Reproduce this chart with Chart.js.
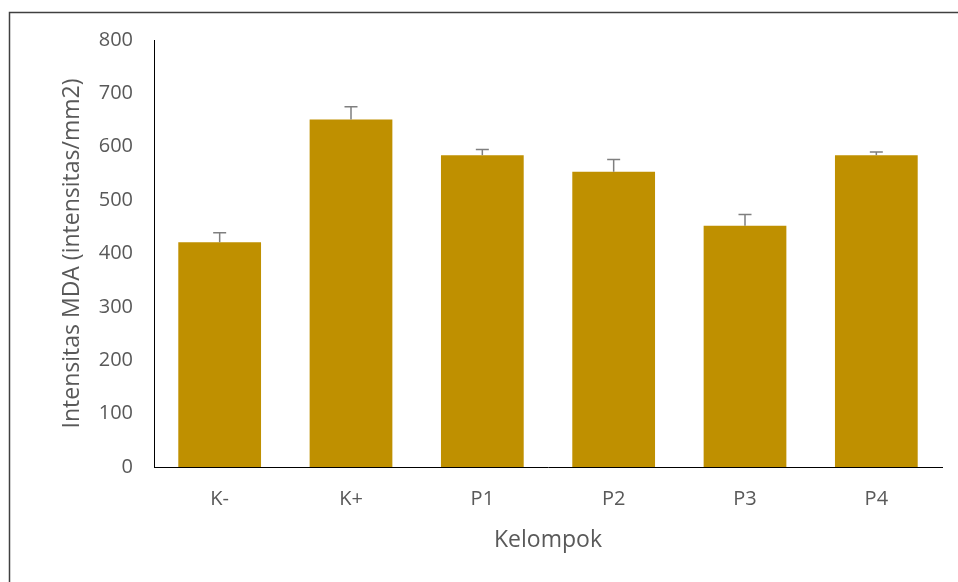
<!DOCTYPE html>
<html>
<head>
<meta charset="utf-8">
<script src="https://cdn.jsdelivr.net/npm/chart.js@4/dist/chart.umd.min.js"></script>
<style>
  html, body { margin: 0; padding: 0; background: #fff; }
  #wrap { width: 958px; height: 582px; position: relative; }
</style>
</head>
<body>
<div id="wrap"><canvas id="mdaChart"></canvas></div>
<script>
// data
const groups = ['K-', 'K+', 'P1', 'P2', 'P3', 'P4'];
const mdaValues = [421, 651, 584, 553, 452, 584];
const mdaErrors = [18, 24, 11, 23, 21, 6];
const yTicks = [0, 100, 200, 300, 400, 500, 600, 700, 800];

// frame line top and left, like the pasted Excel picture
const framePlugin = {
  id: 'frame',
  beforeDraw(chart) {
    const ctx = chart.ctx;
    ctx.save();
    ctx.strokeStyle = '#404040';
    ctx.lineWidth = 1.5;
    ctx.beginPath();
    ctx.moveTo(9.5, chart.height);
    ctx.lineTo(9.5, 12.5);
    ctx.lineTo(chart.width, 12.5);
    ctx.stroke();
    ctx.restore();
  }
};

// upper error bars only
const errorBarPlugin = {
  id: 'errorBars',
  afterDatasetsDraw(chart) {
    const ctx = chart.ctx;
    const yScale = chart.scales.y;
    const meta = chart.getDatasetMeta(0);
    ctx.save();
    ctx.strokeStyle = '#7f7f7f';
    ctx.lineWidth = 1.5;
    meta.data.forEach((bar, i) => {
      const top = yScale.getPixelForValue(mdaValues[i] + mdaErrors[i]);
      ctx.beginPath();
      ctx.moveTo(bar.x, bar.y);
      ctx.lineTo(bar.x, top);
      ctx.moveTo(bar.x - 6.5, top);
      ctx.lineTo(bar.x + 6.5, top);
      ctx.stroke();
    });
    ctx.restore();
  }
};

const ctx = document.getElementById('mdaChart').getContext('2d');
new Chart(ctx, {
  type: 'bar',
  data: {
    labels: groups,
    datasets: [
      {
        label: 'Intensitas MDA',
        backgroundColor: '#bf9000',
        borderWidth: 0,
        data: mdaValues,
        barPercentage: 0.63,
        categoryPercentage: 1,
      },
    ],
  },
  options: {
    responsive: true,
    maintainAspectRatio: false,
    animation: false,
    layout: { padding: { top: 40, right: 16, left: 0, bottom: 0 } },
    scales: {
      x: {
        grid: { display: false, drawTicks: false },
        border: { display: true, color: '#000', width: 1 },
        ticks: {
          color: '#595959',
          font: { family: 'Open Sans', size: 20 },
          padding: 20,
        },
        title: {
          display: true,
          text: 'Kelompok',
          color: '#595959',
          font: { family: 'Open Sans', size: 23 },
          padding: { top: 0, bottom: 28 },
        },
        afterFit(scale) { scale.height = 115; },
      },
      y: {
        min: 0,
        max: 800,
        grid: { display: false, drawTicks: false },
        border: { display: true, color: '#000', width: 1 },
        afterBuildTicks(scale) { scale.ticks = yTicks.map(v => ({ value: v })); },
        ticks: {
          color: '#595959',
          font: { family: 'Open Sans', size: 20 },
          padding: 21,
        },
        title: {
          display: true,
          text: 'Intensitas MDA (intensitas/mm2)',
          color: '#595959',
          font: { family: 'Open Sans', size: 23 },
          padding: { top: 59, bottom: 0 },
        },
        afterFit(scale) { scale.width = 154; },
      },
    },
    plugins: {
      legend: { display: false },
      tooltip: { enabled: false },
    },
  },
  plugins: [framePlugin, errorBarPlugin],
});
</script>
</body>
</html>
